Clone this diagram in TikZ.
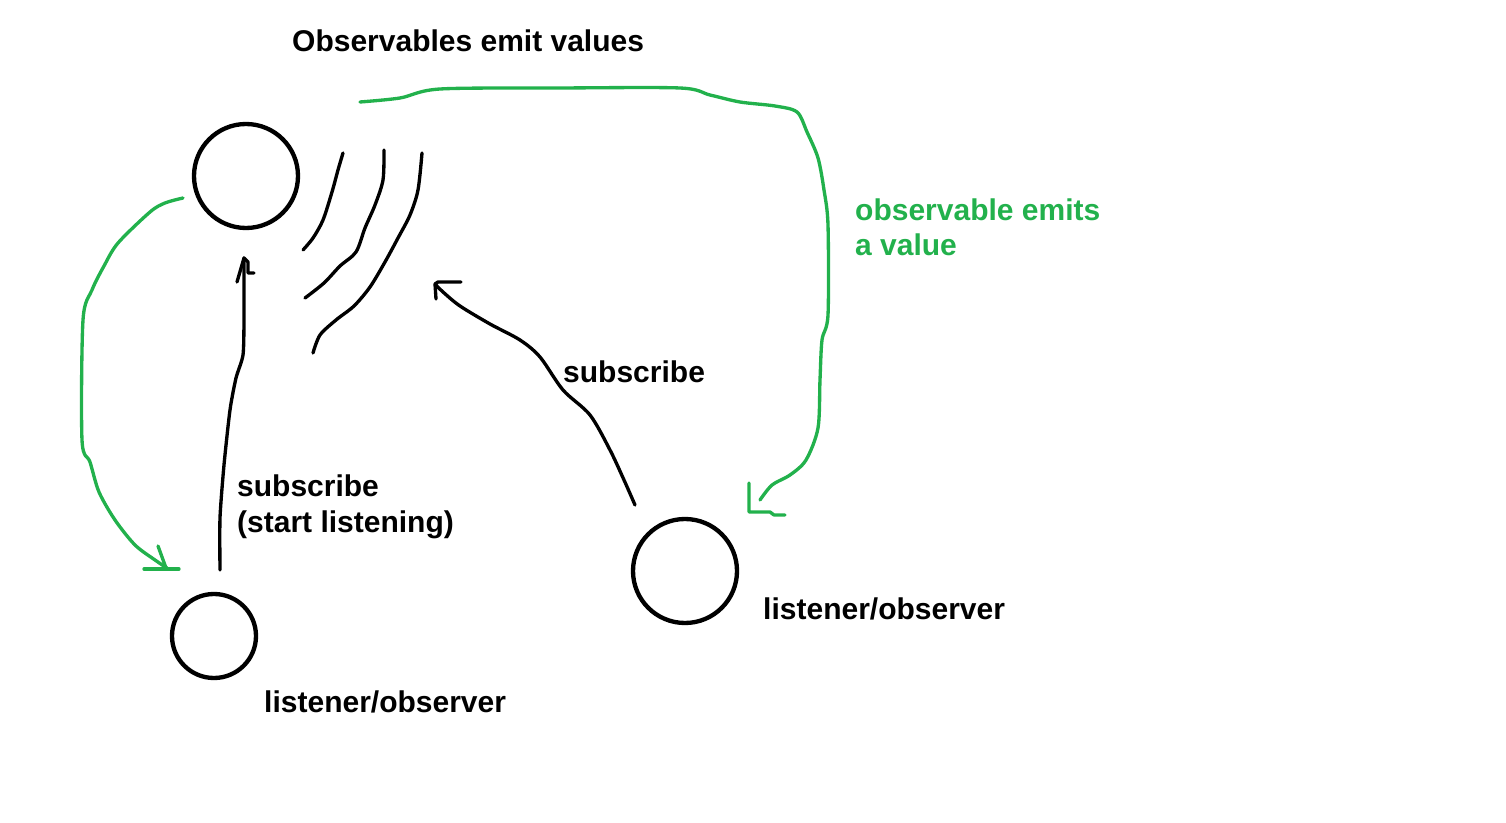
\documentclass[tikz,border=0pt]{standalone}
\usepackage{fontspec}
\setmainfont{Liberation Sans}
\usetikzlibrary{positioning}
\definecolor{paintgreen}{HTML}{22B14C}

\begin{document}
\begin{tikzpicture}[x=0.03cm,y=-0.03cm,line join=round,line cap=round,
        blob/.style={circle,draw,line width=0.13cm,inner sep=0pt},
        lbl/.style={font=\fontsize{25.6}{29.9}\selectfont\bfseries,inner sep=0pt,anchor=base west,align=left},
        pen/.style={line width=0.1cm},
        gpen/.style={pen,draw=paintgreen}]
        \useasboundingbox (0,0) rectangle (1506,823);

        \node[blob, minimum size=3.12cm]    (obs)    at (246,176)    {};
        \node[blob, minimum size=2.52cm]    (lisA)   at (214,636)    {};
        \node[blob, minimum size=3.12cm]    (lisB)   at (685,571)    {};

        \node[lbl]                          (title)  at (292,52)     {Observables emit values};
        \node[lbl]                          (subA)   at (237,532)    {subscribe\\(start listening)};
        \node[lbl]                          (subB)   at (563,382)    {subscribe};
        \node[lbl, text=paintgreen]         (emits)  at (855,256)    {observable emits\\a value};
        \node[lbl]                          (nameA)  at (264,712)    {listener/observer};
        \node[lbl]                          (nameB)  at (763,619)    {listener/observer};

        % tails and tips of the hand drawn connectors
        \coordinate (tailA)  at (220,570);
        \coordinate (tipA)   at (244,258);
        \coordinate (tailB)  at (635,505);
        \coordinate (tipB)   at (435,284);
        \coordinate (tailG)  at (360,102);
        \coordinate (tipG)   at (760,500);
        \coordinate (tailL)  at (183,198);
        \coordinate (tipL)   at (167,568);

        % emitted values
        \draw[pen] plot[smooth, tension=0.5] coordinates {(343,153) (338,170) (332,192) (323,220) (313,238) (303,250)};
        \draw[pen] plot[smooth, tension=0.5] coordinates {(384,150) (383,180) (375,205) (365,228) (356,252) (340,266) (324,283) (305,298)};
        \draw[pen] plot[smooth, tension=0.5] coordinates {(422,153) (418,190) (410,215) (398,238) (385,262) (370,287) (354,306) (336,320) (320,335) (313,353)};

        % subscribe (start listening)
        \draw[pen] plot[smooth, tension=0.4] coordinates {(tailA) (220,518) (224,465) (230,410) (236,378) (243,355) (244,320) (tipA)};
        \draw[pen] (237,282) -- (tipA) -- (248,262) -- (248,273) -- (254,273);

        % subscribe
        \draw[pen] plot[smooth, tension=0.5] coordinates {(tailB) (624,480) (610,450) (590,415) (563,390) (540,357) (520,340) (490,324) (460,306) (443,292) (tipB)};
        \draw[pen] (436,299) -- (tipB) -- (438,282) -- (461,282);

        % observable emits a value
        \draw[gpen] plot[smooth, tension=0.5] coordinates {(tailG) (400,98) (440,89) (560,88) (680,88) (710,95) (740,102) (775,106) (797,112) (807,132) (818,158) (824,190) (828,225) (828,315) (822,340) (820,380) (818,428) (806,460) (790,475) (772,485) (tipG)};
        \draw[gpen] (749,483) -- (749,512) -- (770,512) -- (774,515) -- (785,515);

        \draw[gpen] plot[smooth, tension=0.5] coordinates {(tailL) (165,203) (150,212) (118,243) (104,266) (92,290) (83,320) (82,440) (90,462) (99,492) (115,520) (135,545) (155,560) (tipL)};
        \draw[gpen] (144,569) -- (179,569);
        \draw[gpen] (158,546) -- (166,568);
\end{tikzpicture}
\end{document}
